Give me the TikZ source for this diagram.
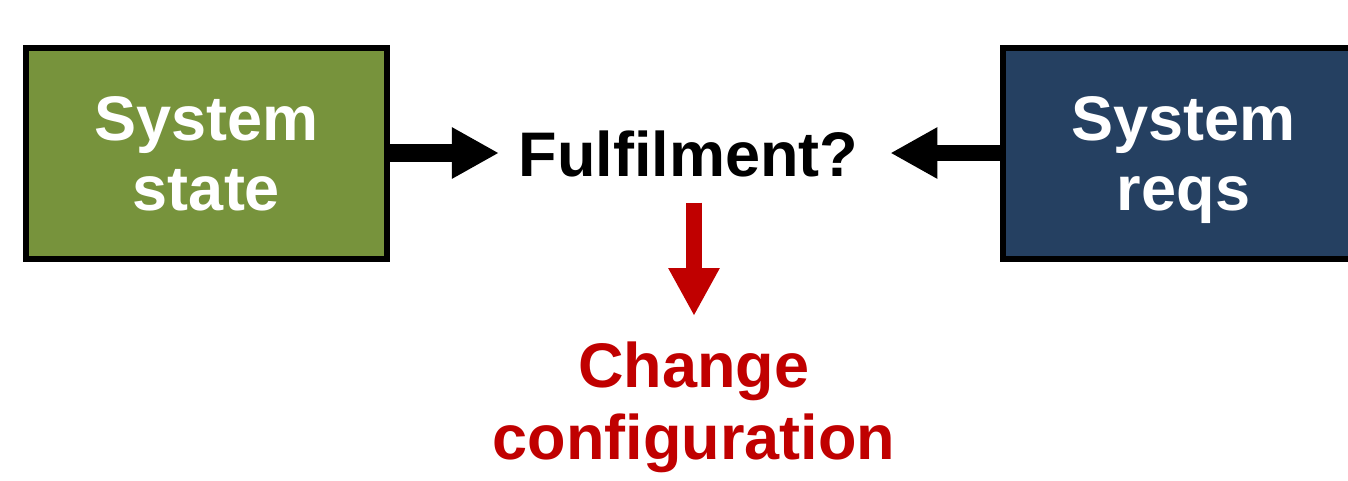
\documentclass[tikz,border=0pt]{standalone}
\usepackage{fontspec}
\setmainfont{Liberation Sans}
\usetikzlibrary{arrows.meta}

\definecolor{stategreen}{HTML}{77933C}
\definecolor{reqsblue}{HTML}{254061}
\definecolor{changered}{HTML}{C00000}

\tikzset{
  bigtext/.style={font=\fontsize{63}{70}\selectfont\bfseries, align=center, inner sep=0pt},
  block/.style={draw=black, line width=6pt, minimum width=361pt, minimum height=211pt,
                text=white, bigtext, text depth=0pt},
  feedarrow/.style={draw=black, line width=#1, -{Triangle[length=47pt,width=48pt]}},
  actarrow/.style={draw=changered, line width=16pt, -{Triangle[length=48pt,width=48pt]}}
}

\begin{document}
\begin{tikzpicture}[x=1pt,y=1pt]
  \clip (0,0) rectangle (1348,-480);
  \useasboundingbox (0,0) rectangle (1348,-480);

  % input blocks
  \node[block, fill=stategreen] (state) at (206.5,-153) {System\\state};
  \node[block, fill=reqsblue]   (reqs)  at (1183.5,-153) {System\\reqs};

  % comparison in the middle
  \node[bigtext, text=black, anchor=base] (fulfil) at (688.4,-176) {Fulfilment?};

  % outcome
  \node[bigtext, text=changered, anchor=north,
        font=\fontsize{63}{72}\selectfont\bfseries] (change) at (694,-342) {Change\\configuration};

  % connectors
  \draw[feedarrow=18pt, shorten >=19.5pt] (state.east) -- (state.east -| fulfil.west);
  \draw[feedarrow=16pt, shorten >=32pt] (reqs.west) -- (reqs.west -| fulfil.east);
  \draw[actarrow, shorten <=25.7pt, shorten >=26pt] (fulfil.south -| change.north) -- (change.north);
\end{tikzpicture}
\end{document}
